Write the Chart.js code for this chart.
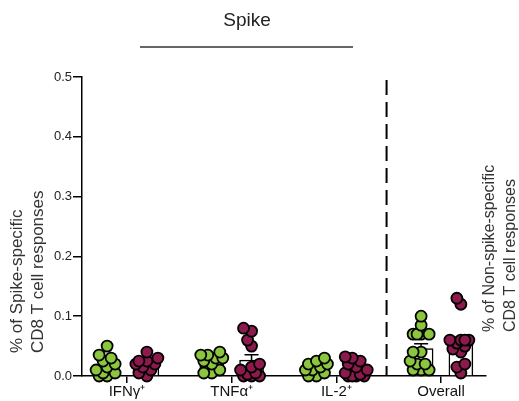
<!DOCTYPE html>
<html lang="en">
<head>
  <meta charset="UTF-8">
  <title>Spike CD8 T cell responses</title>
  <script src="https://cdn.jsdelivr.net/npm/chart.js"></script>
  <style>
    body { margin: 0; background: #fff; }
    #wrap { width: 519px; height: 401px; }
  </style>
</head>
<body>
<div id="wrap"><canvas id="cd8Chart" width="519" height="401"></canvas></div>

<script>
  // categories on the x axis
  const categories = ['IFNγ\u207A', 'TNFα\u207A', 'IL-2\u207A', 'Overall'];
  const yTicks = [0, 0.1, 0.2, 0.3, 0.4, 0.5];

  // green group, one list per category
  const greenIFN = [0.05, 0.035, 0.03, 0.025, 0.02, 0.015, 0.01, 0.005, 0.005, 0, 0];
  const greenTNF = [0.04, 0.035, 0.035, 0.03, 0.03, 0.025, 0.02, 0.01, 0.005, 0.005];
  const greenIL2 = [0.03, 0.025, 0.02, 0.02, 0.015, 0.01, 0.01, 0.005, 0, 0];
  const greenAll = [0.1, 0.085, 0.07, 0.07, 0.07, 0.07, 0.04, 0.04, 0.025, 0.02, 0.02, 0.01, 0.01, 0.01];

  // purple group
  const purpleIFN = [0.04, 0.03, 0.025, 0.025, 0.02, 0.02, 0.015, 0.01, 0.005, 0];
  const purpleTNF = [0.08, 0.075, 0.06, 0.05, 0.02, 0.015, 0.01, 0.005, 0.003, 0, 0, 0];
  const purpleIL2 = [0.032, 0.03, 0.025, 0.02, 0.015, 0.01, 0.005, 0.003, 0, 0, 0, 0];
  const purpleAll = [0.13, 0.12, 0.06, 0.06, 0.06, 0.06, 0.055, 0.05, 0.045, 0.04, 0.02, 0.015, 0.005];

  const greenSets = [greenIFN, greenTNF, greenIL2, greenAll];
  const purpleSets = [purpleIFN, purpleTNF, purpleIL2, purpleAll];

  const GREEN = '#8cc63f';
  const PURPLE = '#8c1a4d';
  const SHIFT = 0.19;       // half distance between the two groups
  const DIVIDER = 2.48;     // dashed separator between spike and overall

  function mean(a) { return a.reduce((s, v) => s + v, 0) / a.length; }
  function sem(a) {
    const m = mean(a);
    const sd = Math.sqrt(a.reduce((s, v) => s + (v - m) * (v - m), 0) / (a.length - 1));
    return sd / Math.sqrt(a.length);
  }

  // simple beeswarm so the dots spread sideways instead of stacking
  const pxX = 404 / 3.86, pxY = 299 / 0.5;
  function swarm(values, center) {
    const placed = [];
    const sorted = values.slice().sort((a, b) => a - b);
    const steps = [0, -4, 4, -8, 8, -11, 11];
    sorted.forEach(v => {
      let best = 0, bestD = -1;
      for (const dx of steps) {
        let dmin = Infinity;
        placed.forEach(p => {
          const d = Math.hypot(p.dx - dx, (p.v - v) * pxY);
          if (d < dmin) dmin = d;
        });
        if (dmin >= 7) { best = dx; bestD = Infinity; break; }
        if (dmin > bestD) { bestD = dmin; best = dx; }
      }
      placed.push({ dx: best, v: v });
    });
    return placed.map(p => ({ x: center + p.dx / pxX, y: p.v }));
  }

  const greenPoints = [], purplePoints = [], barData = [];
  categories.forEach((c, i) => {
    greenPoints.push(...swarm(greenSets[i], i - SHIFT));
    purplePoints.push(...swarm(purpleSets[i], i + SHIFT));
    barData.push({ x: i - SHIFT, y: mean(greenSets[i]), e: sem(greenSets[i]) });
    barData.push({ x: i + SHIFT, y: mean(purpleSets[i]), e: sem(purpleSets[i]) });
  });

  const FONT = "'Liberation Sans', Arial, Helvetica, sans-serif";

  const errorBars = {
    id: 'errorBars',
    afterDatasetDraw(chart, args) {
      if (args.index !== 0) return;
      const ctx = chart.ctx, x = chart.scales.x, y = chart.scales.y;
      ctx.save();
      ctx.strokeStyle = '#000';
      ctx.lineWidth = 1.5;
      barData.forEach(b => {
        const px = x.getPixelForValue(b.x);
        const y0 = y.getPixelForValue(b.y);
        const y1 = y.getPixelForValue(b.y + b.e);
        ctx.beginPath();
        ctx.moveTo(px, y0); ctx.lineTo(px, y1);
        ctx.moveTo(px - 7, y1); ctx.lineTo(px + 7, y1);
        ctx.stroke();
      });
      ctx.restore();
    }
  };

  const decorations = {
    id: 'decorations',
    beforeDatasetsDraw(chart) {
      const ctx = chart.ctx, x = chart.scales.x, area = chart.chartArea;
      const px = x.getPixelForValue(DIVIDER);
      ctx.save();
      ctx.strokeStyle = '#000';
      ctx.lineWidth = 2;
      ctx.setLineDash([15, 7]);
      ctx.beginPath();
      ctx.moveTo(px, area.top + 3);
      ctx.lineTo(px, area.bottom);
      ctx.stroke();
      ctx.restore();
    },
    afterDraw(chart) {
      const ctx = chart.ctx;
      ctx.save();
      ctx.fillStyle = '#222';
      ctx.textAlign = 'center';
      ctx.textBaseline = 'middle';
      ctx.font = '19px ' + FONT;
      ctx.fillText('Spike', 247, 21);
      ctx.strokeStyle = '#333';
      ctx.lineWidth = 1.5;
      ctx.beginPath();
      ctx.moveTo(140, 47); ctx.lineTo(353, 47);
      ctx.stroke();

      function vText(txt, cx, by, size) {
        ctx.save();
        ctx.translate(cx, by);
        ctx.rotate(-Math.PI / 2);
        ctx.font = size + 'px ' + FONT;
        ctx.textAlign = 'left';
        ctx.textBaseline = 'middle';
        ctx.fillText(txt, 0, 0);
        ctx.restore();
      }
      ctx.fillStyle = '#333';
      vText('% of Spike-specific', 17, 353, 17);
      vText('CD8 T cell responses', 38, 353, 17);
      vText('% of Non-spike-specific', 490, 332, 16);
      vText('CD8 T cell responses', 511, 332, 16);
      ctx.restore();
    }
  };

  const ctx = document.getElementById('cd8Chart').getContext('2d');
  new Chart(ctx, {
    type: 'bar',
    data: {
      datasets: [
        {
          type: 'bar',
          data: barData,
          backgroundColor: '#fff',
          borderColor: '#000',
          borderWidth: 1.5,
          barThickness: 24,
          order: 2
        },
        {
          type: 'scatter',
          data: greenPoints,
          backgroundColor: GREEN,
          borderColor: '#000',
          borderWidth: 1.8,
          pointRadius: 5.5,
          order: 1
        },
        {
          type: 'scatter',
          data: purplePoints,
          backgroundColor: PURPLE,
          borderColor: '#000',
          borderWidth: 1.8,
          pointRadius: 5.5,
          order: 0
        }
      ]
    },
    options: {
      responsive: false,
      animation: false,
      clip: false,
      layout: { padding: { left: 0, top: 77, right: 33, bottom: 0 } },
      plugins: { legend: { display: false }, tooltip: { enabled: false } },
      scales: {
        x: {
          type: 'linear',
          min: -0.43,
          max: 3.43,
          offset: false,
          afterBuildTicks: s => { s.ticks = categories.map((c, i) => ({ value: i })); },
          afterFit: s => { s.height = 25; },
          ticks: {
            callback: v => categories[v],
            autoSkip: false,
            maxRotation: 0,
            padding: 0,
            color: '#111',
            font: { family: FONT, size: 15 }
          },
          grid: { offset: false, drawOnChartArea: false, drawTicks: true, tickLength: 7, color: '#000', lineWidth: 1.5 },
          border: { display: true, color: '#000', width: 1.5 }
        },
        y: {
          type: 'linear',
          min: 0,
          max: 0.5,
          afterBuildTicks: s => { s.ticks = yTicks.map(v => ({ value: v })); },
          afterFit: s => { s.width = 82; },
          ticks: {
            callback: v => v.toFixed(1),
            padding: 1,
            color: '#222',
            font: { family: FONT, size: 13 }
          },
          grid: { drawOnChartArea: false, drawTicks: true, tickLength: 9, color: '#000', lineWidth: 1.5 },
          border: { display: true, color: '#000', width: 1.5 }
        }
      }
    },
    plugins: [errorBars, decorations]
  });
</script>
</body>
</html>
